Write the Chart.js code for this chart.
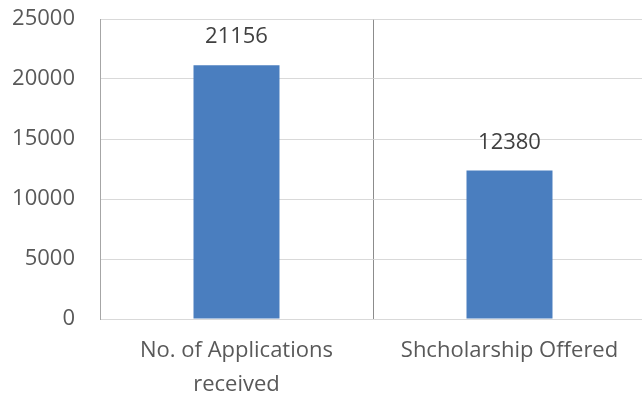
<!DOCTYPE html>
<html>
<head>
<meta charset="utf-8">
<script src="https://cdn.jsdelivr.net/npm/chart.js@4.4.1/dist/chart.umd.min.js"></script>
<style>
  html, body { margin: 0; padding: 0; background: #fff; overflow: hidden; }
  #wrap { position: relative; width: 648px; height: 402px; }
</style>
</head>
<body>
<div id="wrap"><canvas id="myChart" width="648" height="402"></canvas></div>
<script>
const categories = [['No. of Applications', 'received'], 'Shcholarship Offered'];
const counts = [21156, 12380];
const yTicks = [0, 5000, 10000, 15000, 20000, 25000];

const FONT = '"Open Sans", sans-serif';

// writes each bar's value just above it
const valueLabels = {
    id: 'valueLabels',
    afterDatasetsDraw(chart) {
        const ctx = chart.ctx;
        const meta = chart.getDatasetMeta(0);
        ctx.save();
        ctx.font = '22px ' + FONT;
        ctx.fillStyle = '#404040';
        ctx.textAlign = 'center';
        ctx.textBaseline = 'middle';
        meta.data.forEach((bar, i) => {
            ctx.fillText(String(chart.data.datasets[0].data[i]), bar.x, bar.y - 28);
        });
        ctx.restore();
    }
};

new Chart(document.getElementById('myChart'), {
    type: 'bar',
    data: {
        labels: categories,
        datasets: [{
            data: counts,
            backgroundColor: '#4a7ebf',
            borderWidth: 0,
            barPercentage: 0.315,
            categoryPercentage: 1
        }]
    },
    options: {
        responsive: false,
        animation: false,
        layout: { padding: { top: 19, right: 2, left: 0, bottom: 0 } },
        plugins: { legend: { display: false }, tooltip: { enabled: false } },
        scales: {
            x: {
                offset: true,
                grid: { offset: true, color: '#8c8c8c', lineWidth: 1, drawTicks: false },
                border: { color: '#d9d9d9' },
                ticks: {
                    color: '#595959',
                    font: { family: FONT, size: 22, lineHeight: 1.55 },
                    padding: 15,
                    maxRotation: 0
                },
                afterFit(scale) { scale.height = 83; }
            },
            y: {
                min: 0,
                max: 25000,
                afterBuildTicks(scale) { scale.ticks = yTicks.map(v => ({ value: v })); },
                grid: { color: '#d9d9d9', drawTicks: false },
                border: { color: '#a6a6a6' },
                ticks: {
                    color: '#595959',
                    font: { family: FONT, size: 22 },
                    padding: 25,
                    callback: v => String(v)
                },
                afterFit(scale) {
                    scale.width = 100;
                    // label gap shouldn't push the plot area down
                    scale.paddingTop = 0;
                    scale.paddingBottom = 0;
                }
            }
        }
    },
    plugins: [valueLabels]
});
</script>
</body>
</html>
